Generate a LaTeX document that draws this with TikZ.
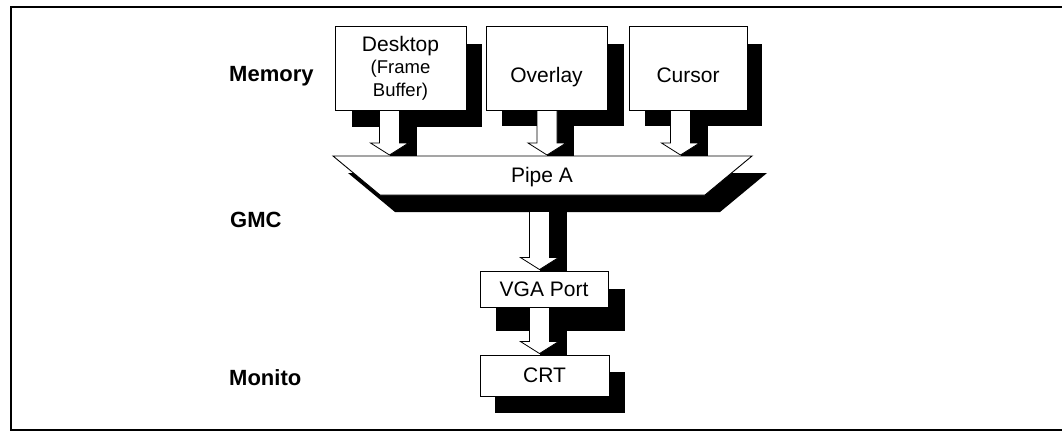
\documentclass[tikz,border=0pt]{standalone}
\usepackage{fontspec}
\setmainfont{Liberation Sans}
\usetikzlibrary{calc}
\pgfdeclarelayer{bg}
\pgfdeclarelayer{mid}
\pgfsetlayers{bg,mid,main}

\newcommand{\fatarrow}[3]{%
  \begin{pgfonlayer}{bg}
    \fill[black] let \p1=(#1), \p2=(#2) in ({#3pt},\y1) rectangle ({#3pt+27pt},\y2);
  \end{pgfonlayer}
  \begin{pgfonlayer}{mid}
    \draw[arrowfill] let \p1=(#1), \p2=(#2) in
      ({#3pt-10pt},\y1) -- ({#3pt-10pt},{\y2+13pt}) -- ({#3pt-19pt},{\y2+13pt})
      -- ({#3pt},{\y2+1pt}) -- ({#3pt+19pt},{\y2+13pt}) -- ({#3pt+10pt},{\y2+13pt})
      -- ({#3pt+10pt},\y1);
  \end{pgfonlayer}}
\newcommand{\lowtext}[1]{\smash{\raisebox{-14pt}{#1}}}

\begin{document}
\begin{tikzpicture}[x=1pt,y=-1pt,
  box/.style={draw=black,fill=white,line width=0.9pt,inner sep=0pt,align=center,
              font=\fontsize{21}{22.5}\selectfont},
  lbl/.style={anchor=west,inner sep=0pt,font=\fontsize{22}{24}\selectfont\bfseries},
  arrowfill/.style={draw=black,fill=white,line width=0.8pt,line join=miter},
  frame/.style={line width=2.2pt}]
\useasboundingbox (0,0) rectangle (1062,431);

% frame (open on the right)
\draw[frame] (1062,7) -- (11,7) -- (11,429.6) -- (1062,429.6);

% level labels
\node[lbl] (lmem) at (229,76) {Memory};
\node[lbl] (lgmc) at (230,220) {GMC};
\node[lbl] (lmon) at (229,378) {Monito};

% memory boxes
\node[box,minimum width=131pt,minimum height=84pt] (desk) at (400.5,68)
  {Desktop\\{\fontsize{18.5}{22.5}\selectfont (Frame}\\{\fontsize{18.5}{22.5}\selectfont Buffer)}};
\node[box,minimum width=121pt,minimum height=84pt] (over) at (546.5,68) {\lowtext{Overlay}};
\node[box,minimum width=118pt,minimum height=84pt] (curs) at (688,68) {\lowtext{Cursor}};

% lower boxes
\node[box,minimum width=128pt,minimum height=36pt] (vga) at (544,289) {VGA Port};
\node[box,minimum width=129pt,minimum height=41pt] (crt) at (544.5,375.5) {CRT};

% pipe
\coordinate (pTL) at (333,156);
\coordinate (pTR) at (752,156);
\coordinate (pBR) at (705,195);
\coordinate (pBL) at (380,195);
\coordinate (ptop) at (542,156);
\coordinate (psb) at (557,212);
\draw[fill=white,line width=0.9pt] (pTL) -- (pTR) -- (pBR) -- (pBL) -- cycle;
\node[font=\fontsize{21}{22.5}\selectfont] (pipe) at (542,177) {Pipe A};

% shadows
\begin{pgfonlayer}{bg}
  \fill[black] ($(desk.north west)+(17,18)$) rectangle ($(desk.south east)+(16,17)$);
  \fill[black] ($(over.north west)+(16,18)$) rectangle ($(over.south east)+(17,16)$);
  \fill[black] ($(curs.north west)+(16,18)$) rectangle ($(curs.south east)+(15,16)$);
  \fill[black] ($(pTL)+(15,17)$) -- ($(pTR)+(15,17)$) -- ($(pBR)+(15,17)$) -- ($(pBL)+(15,17)$) -- cycle;
  \fill[black] ($(vga.north west)+(16,18)$) rectangle ($(vga.south east)+(17,24)$);
  \fill[black] ($(crt.north west)+(15,17)$) rectangle ($(crt.south east)+(16,17)$);
\end{pgfonlayer}

% block arrows
\fatarrow{desk.south}{ptop}{389.5}
\fatarrow{over.south}{ptop}{547}
\fatarrow{curs.south}{ptop}{680.5}
\fatarrow{psb}{vga.north}{539.5}
\fatarrow{vga.south}{crt.north}{539.5}
\end{tikzpicture}
\end{document}
